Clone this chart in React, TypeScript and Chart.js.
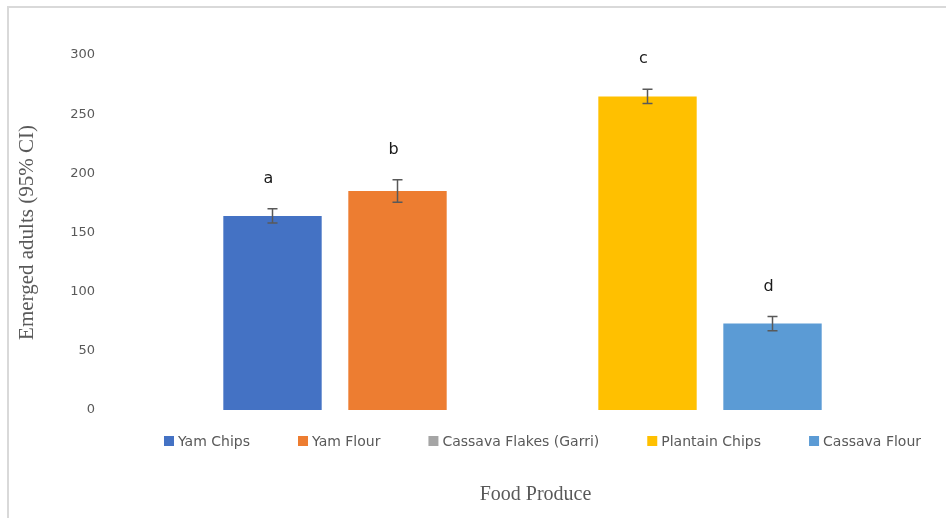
import React, { useEffect, useRef } from "react";
import { Chart, registerables } from "chart.js";

Chart.register(...registerables);

const categories = ["Food Produce"];
const seriesNames = ["Yam Chips", "Yam Flour", "Cassava Flakes (Garri)", "Plantain Chips", "Cassava Flour"];
const seriesColors = ["#4472C4", "#ED7D31", "#A5A5A5", "#FFC000", "#5B9BD5"];
const meanValues = [164, 185, 0, 265, 73];
const ciErrors = [6, 9.5, 0, 6, 6];
const groupLetters = ["a", "b", "", "c", "d"];
const yMin = 0;
const yMax = 300;
const yStep = 50;
const yTitle = "Emerged adults (95% CI)";
const xTitle = "Food Produce";

const GRAY = "#595959";

const errorBarPlugin = {
  id: "errorBars",
  afterDatasetsDraw(chart: any) {
    const ctx = chart.ctx;
    const y = chart.scales.y;
    chart.data.datasets.forEach((ds: any, i: number) => {
      const meta = chart.getDatasetMeta(i);
      const bar = meta.data[0];
      const v = ds.data[0];
      if (!bar || !v) return;
      const e = ciErrors[i];
      const x = bar.x;
      const top = y.getPixelForValue(v + e);
      const bot = y.getPixelForValue(v - e);
      ctx.save();
      ctx.strokeStyle = GRAY;
      ctx.lineWidth = 1.5;
      ctx.beginPath();
      ctx.moveTo(x, top);
      ctx.lineTo(x, bot);
      ctx.moveTo(x - 5, top);
      ctx.lineTo(x + 5, top);
      ctx.moveTo(x - 5, bot);
      ctx.lineTo(x + 5, bot);
      ctx.stroke();
      const letter = groupLetters[i];
      if (letter) {
        ctx.fillStyle = "#1a1a1a";
        ctx.font = "16px 'DejaVu Sans'";
        ctx.textAlign = "center";
        ctx.textBaseline = "middle";
        ctx.fillText(letter, x - 4, top - 30);
      }
      ctx.restore();
    });
  },
};

const legendAndTitlePlugin = {
  id: "bottomLegendTitle",
  afterDraw(chart: any) {
    const ctx = chart.ctx;
    const area = chart.chartArea;
    const mid = (area.left + area.right) / 2;
    ctx.save();
    ctx.font = "14px 'DejaVu Sans'";
    const box = 10;
    const gapBoxText = 4;
    const gapItems = 48;
    const widths = chart.data.datasets.map(
      (ds: any) => box + gapBoxText + ctx.measureText(ds.label).width
    );
    const total = widths.reduce((a: number, b: number) => a + b, 0) + gapItems * (widths.length - 1);
    let x = mid + 20 - total / 2;
    const ly = area.bottom + 31;
    chart.data.datasets.forEach((ds: any, i: number) => {
      ctx.fillStyle = ds.backgroundColor;
      ctx.fillRect(x, ly - box / 2, box, box);
      ctx.fillStyle = GRAY;
      ctx.textAlign = "left";
      ctx.textBaseline = "middle";
      ctx.fillText(ds.label, x + box + gapBoxText, ly + 1);
      x += widths[i] + gapItems;
    });
    ctx.font = "20px 'Liberation Serif'";
    ctx.fillStyle = GRAY;
    ctx.textAlign = "center";
    ctx.textBaseline = "middle";
    ctx.fillText(xTitle, mid + 13, area.bottom + 85);
    ctx.restore();
  },
};

export default function App() {
  const canvasRef = useRef<HTMLCanvasElement | null>(null);

  useEffect(() => {
    if (!canvasRef.current) return;
    const chart = new Chart(canvasRef.current, {
      type: "bar",
      data: {
        labels: categories,
        datasets: seriesNames.map((name, i) => ({
          label: name,
          data: [meanValues[i]],
          backgroundColor: seriesColors[i],
          borderWidth: 0,
          categoryPercentage: 0.7576,
          barPercentage: 0.787,
        })),
      },
      options: {
        responsive: false,
        animation: false,
        layout: { padding: { left: 11, right: 11, top: 55, bottom: 108 } },
        plugins: {
          legend: { display: false },
          tooltip: { enabled: false },
          title: { display: false },
        },
        scales: {
          x: { display: false },
          y: {
            min: yMin,
            max: yMax,
            grid: { display: false, drawTicks: false },
            border: { display: false },
            ticks: {
              stepSize: yStep,
              color: GRAY,
              padding: 15,
              font: { family: "'DejaVu Sans'", size: 13 },
            },
            title: {
              display: true,
              text: yTitle,
              color: GRAY,
              padding: { top: 4, bottom: 15 },
              font: { family: "'Liberation Serif'", size: 21 },
            },
          },
        },
      },
      plugins: [errorBarPlugin, legendAndTitlePlugin],
    });
    return () => chart.destroy();
  }, []);

  return (
    <div style={{ position: "fixed", left: 0, top: 0, width: 946, height: 518, background: "#fff" }}>
      <div
        style={{
          position: "absolute",
          left: 7,
          top: 6,
          right: 0,
          bottom: 0,
          borderLeft: "2px solid #d9d9d9",
          borderTop: "2px solid #d9d9d9",
        }}
      />
      <canvas ref={canvasRef} width={946} height={518} style={{ position: "absolute", left: 0, top: 0 }} />
    </div>
  );
}
